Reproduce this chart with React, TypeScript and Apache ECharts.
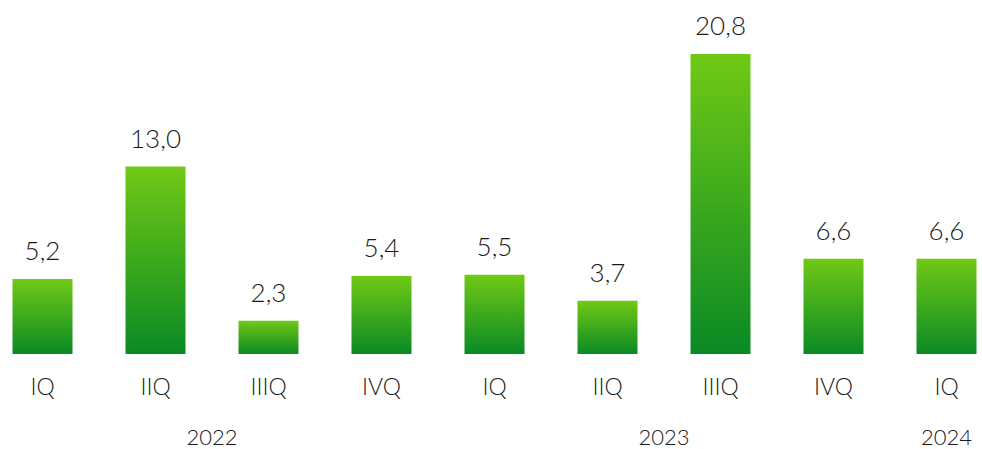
import React, { useEffect, useRef } from "react";
import * as echarts from "echarts";

const categories = ["IQ", "IIQ", "IIIQ", "IVQ", "IQ", "IIQ", "IIIQ", "IVQ", "IQ"];
const values = [5.2, 13.0, 2.3, 5.4, 5.5, 3.7, 20.8, 6.6, 6.6];
const years = ["2022", "2022", "2022", "2022", "2023", "2023", "2023", "2023", "2024"];

const FONT = "Lato, 'Open Sans', sans-serif";
const OFFSET = 14.5;

export default function App() {
  const ref = useRef<HTMLDivElement>(null);
  useEffect(() => {
    if (!ref.current) return;
    const chart = echarts.init(ref.current, null, { renderer: "svg" });
    chart.setOption({
      animation: false,
      backgroundColor: "#ffffff",
      grid: { left: 0, right: 0, top: 54, bottom: 95 },
      xAxis: {
        type: "category",
        data: categories,
        axisLine: { show: false },
        axisTick: { show: false },
        axisLabel: {
          color: "#1a1a1a",
          fontFamily: FONT,
          fontWeight: 300,
          fontSize: 23,
          margin: 20,
        },
      },
      yAxis: {
        type: "value",
        min: 0,
        max: 20.8,
        show: false,
        splitLine: { show: false },
      },
      series: [
        {
          type: "bar",
          data: values,
          barWidth: 60,
          itemStyle: {
            color: new echarts.graphic.LinearGradient(0, 0, 0, 1, [
              { offset: 0, color: "#70c915" },
              { offset: 1, color: "#0a8a25" },
            ]),
          },
          label: {
            show: true,
            position: "top",
            distance: 16,
            color: "#1a1a1a",
            fontFamily: FONT,
            fontWeight: 300,
            fontSize: 26,
            formatter: (p: any) => p.value.toFixed(1).replace(".", ","),
          },
        },
      ],
    });

    const groups: { year: string; first: number; last: number }[] = [];
    years.forEach((y, i) => {
      const g = groups[groups.length - 1];
      if (g && g.year === y) g.last = i;
      else groups.push({ year: y, first: i, last: i });
    });
    const yPix = 436;
    chart.setOption({
      graphic: groups.map((g) => {
        const x1 = chart.convertToPixel({ xAxisIndex: 0 }, g.first) as number;
        const x2 = chart.convertToPixel({ xAxisIndex: 0 }, g.last) as number;
        return {
          type: "text",
          x: (x1 + x2) / 2,
          y: yPix,
          style: {
            text: g.year,
            fill: "#1a1a1a",
            font: `300 22px ${FONT}`,
            textAlign: "center",
            textVerticalAlign: "middle",
          },
        };
      }),
    });
    return () => chart.dispose();
  }, []);
  return (
    <div
      style={{
        position: "absolute",
        left: 0,
        top: 0,
        width: 982,
        height: 449,
        overflow: "hidden",
        background: "#fff",
      }}
    >
      <div
        ref={ref}
        style={{ position: "absolute", left: -OFFSET, top: 0, width: 982 + 2 * OFFSET + 6, height: 449 }}
      />
    </div>
  );
}
